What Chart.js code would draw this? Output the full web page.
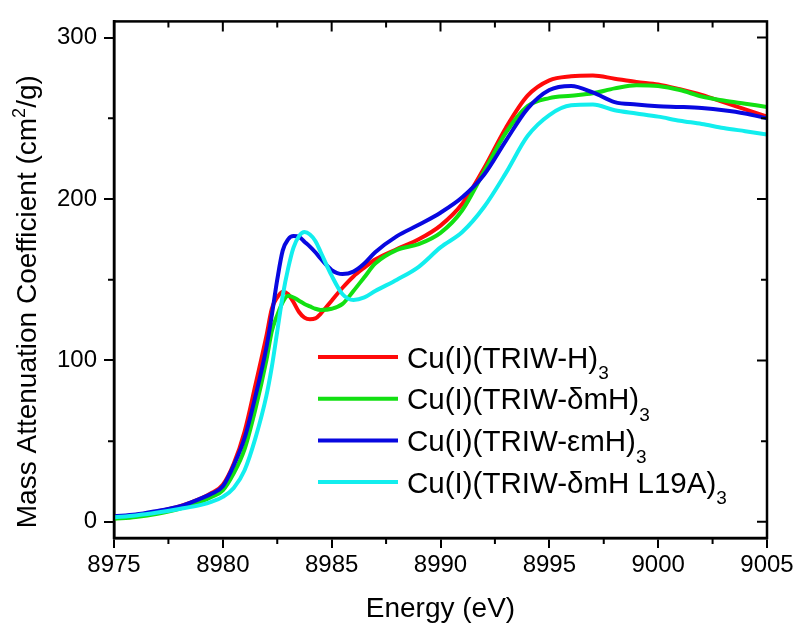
<!DOCTYPE html>
<html>
<head>
<meta charset="utf-8">
<script src="https://cdn.jsdelivr.net/npm/chart.js@4.4.1/dist/chart.umd.min.js"></script>
<style>
  html, body { margin: 0; padding: 0; background: #fff; }
  #wrap { width: 800px; height: 634px; position: relative; }
</style>
</head>
<body>
<div id="wrap"><canvas id="c"></canvas></div>
<script>
// ---- data ----
const energy = [8975, 8976, 8977, 8978, 8979, 8979.5, 8980, 8980.5, 8981, 8981.5, 8982, 8982.25, 8982.5, 8982.75, 8983, 8983.25, 8983.5, 8983.75, 8984, 8984.25, 8984.5, 8985, 8985.5, 8986, 8986.5, 8987, 8988, 8989, 8990, 8991, 8992, 8993, 8994, 8995, 8996, 8997, 8998, 8999, 9000, 9001, 9002, 9003, 9004, 9005];

const triwH = [3, 4.3, 6.5, 9.5, 14.5, 18, 23, 36, 56, 85, 115, 132, 139, 142.5, 141, 136, 130, 126.5, 125.5, 126, 129, 137, 145, 152, 157.5, 162.5, 169, 175, 183.5, 197, 219, 244, 264, 273.5, 276, 276.5, 274.5, 272.5, 271, 268, 264.5, 260, 255.5, 251];

const triwDmH = [1.8, 3, 5, 8, 12.5, 15.5, 19.5, 30, 45, 70, 100, 118, 128, 136, 140, 139, 137, 135, 133.5, 132, 131.3, 132, 135, 143, 151.5, 160, 168.5, 172, 179, 193, 217, 241, 257.5, 262.5, 264, 265.5, 268.5, 270.5, 270, 267.5, 263.5, 261, 259, 257];

const triwEmH = [3.4, 4.5, 6.8, 9.5, 14.5, 17.5, 22, 35, 52, 78, 108, 128, 150, 168, 175, 177, 176.5, 173.5, 170.5, 167, 163, 156, 153.5, 155, 160, 167, 177, 184, 191.5, 201, 215, 236, 256, 267.5, 270, 266, 260, 258.5, 257.5, 257, 256.3, 255, 253, 250];

const triwDmHL19A = [2.8, 4, 5.8, 8, 10.5, 12.5, 15.5, 21, 32, 52, 78, 96, 118, 140, 157, 170, 177, 179.5, 178, 174, 167, 152.5, 141, 137.5, 139, 143, 150, 158, 170, 179.5, 195, 216, 239, 252, 258, 258.5, 255, 253, 251, 248.5, 246.5, 244, 242, 240];

const seriesLabels = ['Cu(I)(TRIW-H)', 'Cu(I)(TRIW-\u03B4mH)', 'Cu(I)(TRIW-\u03B5mH)', 'Cu(I)(TRIW-\u03B4mH L19A)'];
const labelSubscript = '3';
const seriesColors = ['#ff0a0a', '#12e012', '#0808e0', '#12eeee'];

const xTicks = [8975, 8980, 8985, 8990, 8995, 9000, 9005];
const xMinorTicks = [8977.5, 8982.5, 8987.5, 8992.5, 8997.5, 9002.5];
const yTicks = [0, 100, 200, 300];
const yMinorTicks = [50, 150, 250];

const xTitle = 'Energy (eV)';
const yTitleParts = [['Mass Attenuation Coefficient (cm', 0], ['2', 1], ['/g)', 0]];

// ---- chart ----
const FONT = "'Liberation Sans', Arial, Helvetica, sans-serif";
Chart.defaults.color = '#000';
Chart.defaults.font.family = FONT;

const seriesValues = [triwH, triwDmH, triwEmH, triwDmHL19A];
const datasets = seriesValues.map((vals, i) => ({
  label: seriesLabels[i],
  data: energy.map((e, j) => ({ x: e, y: vals[j] })),
  borderColor: seriesColors[i],
  backgroundColor: seriesColors[i],
  borderWidth: 4,
  pointRadius: 0,
  fill: false,
  cubicInterpolationMode: 'monotone',
  order: 4 - i
}));

function drawParts(ctx, parts, x, y, size, align) {
  const sizes = parts.map(p => p[1] === 0 ? size : Math.round(size * 0.66));
  let total = 0;
  const widths = parts.map((p, i) => { ctx.font = sizes[i] + 'px ' + FONT; const w = ctx.measureText(p[0]).width; total += w; return w; });
  let cx = align === 'center' ? x - total / 2 : x;
  ctx.textAlign = 'left';
  ctx.textBaseline = 'alphabetic';
  parts.forEach((p, i) => {
    ctx.font = sizes[i] + 'px ' + FONT;
    let dy = 0;
    if (p[1] === 1) dy = -size * 0.38;
    if (p[1] === -1) dy = size * 0.40;
    ctx.fillText(p[0], cx, y + dy);
    cx += widths[i];
  });
}

const framePlugin = {
  id: 'framePlugin',
  afterDraw(chart) {
    const { ctx, chartArea: a, scales: { x, y } } = chart;
    ctx.save();
    ctx.strokeStyle = '#000';
    ctx.lineWidth = 2.5;
    ctx.strokeRect(a.left, a.top, a.right - a.left, a.bottom - a.top);
    ctx.lineWidth = 2;
    ctx.beginPath();
    xTicks.forEach(v => { const p = x.getPixelForValue(v); ctx.moveTo(p, a.top); ctx.lineTo(p, a.top + 10); });
    xMinorTicks.forEach(v => {
      const p = x.getPixelForValue(v);
      ctx.moveTo(p, a.top); ctx.lineTo(p, a.top + 6);
      ctx.moveTo(p, a.bottom); ctx.lineTo(p, a.bottom + 6);
    });
    yTicks.forEach(v => { const p = y.getPixelForValue(v); ctx.moveTo(a.right, p); ctx.lineTo(a.right - 10, p); });
    yMinorTicks.forEach(v => {
      const p = y.getPixelForValue(v);
      ctx.moveTo(a.left, p); ctx.lineTo(a.left - 6, p);
      ctx.moveTo(a.right, p); ctx.lineTo(a.right - 6, p);
    });
    ctx.stroke();

    // legend
    const lx1 = 318, lx2 = 398, tx = 407, ly0 = 357, step = 41.7;
    chart.data.datasets.forEach((ds, i) => {
      const yy = ly0 + i * step;
      ctx.strokeStyle = ds.borderColor;
      ctx.lineWidth = 4;
      ctx.beginPath(); ctx.moveTo(lx1, yy); ctx.lineTo(lx2, yy); ctx.stroke();
      ctx.fillStyle = '#000';
      drawParts(ctx, [[ds.label, 0], [labelSubscript, -1]], tx, yy + 10.5, 29.5, 'left');
    });

    // y title
    ctx.save();
    ctx.translate(36, (a.top + a.bottom) / 2 + 22);
    ctx.rotate(-Math.PI / 2);
    ctx.fillStyle = '#000';
    drawParts(ctx, yTitleParts, 0, 0, 28, 'center');
    ctx.restore();
    ctx.restore();
  }
};

new Chart(document.getElementById('c'), {
  type: 'line',
  data: { datasets },
  options: {
    responsive: true,
    maintainAspectRatio: false,
    animation: false,
    layout: { padding: { top: 9, right: 33, left: 0, bottom: 0 } },
    plugins: { legend: { display: false }, tooltip: { enabled: false } },
    scales: {
      x: {
        type: 'linear',
        min: 8975, max: 9005,
        afterBuildTicks: s => { s.ticks = xTicks.map(v => ({ value: v })); },
        afterFit: s => { s.height = 96; s.paddingLeft = 0; s.paddingRight = 0; },
        ticks: { font: { size: 24 }, color: '#000', padding: 3, maxRotation: 0, callback: v => String(v) },
        grid: { drawOnChartArea: false, drawTicks: true, tickLength: 10, color: '#000', lineWidth: 2 },
        border: { display: true, color: '#000', width: 2.5 },
        title: { display: true, text: xTitle, font: { size: 28 }, color: '#000', padding: { top: 0, bottom: 8 } }
      },
      y: {
        type: 'linear',
        min: -10, max: 310,
        afterBuildTicks: s => { s.ticks = yTicks.map(v => ({ value: v })); },
        afterFit: s => { s.width = 114; },
        ticks: { font: { size: 24 }, color: '#000', padding: 7, callback: v => String(v) },
        grid: { drawOnChartArea: false, drawTicks: true, tickLength: 10, color: '#000', lineWidth: 2 },
        border: { display: true, color: '#000', width: 2.5 },
        title: { display: false }
      }
    }
  },
  plugins: [framePlugin]
});
</script>
</body>
</html>
